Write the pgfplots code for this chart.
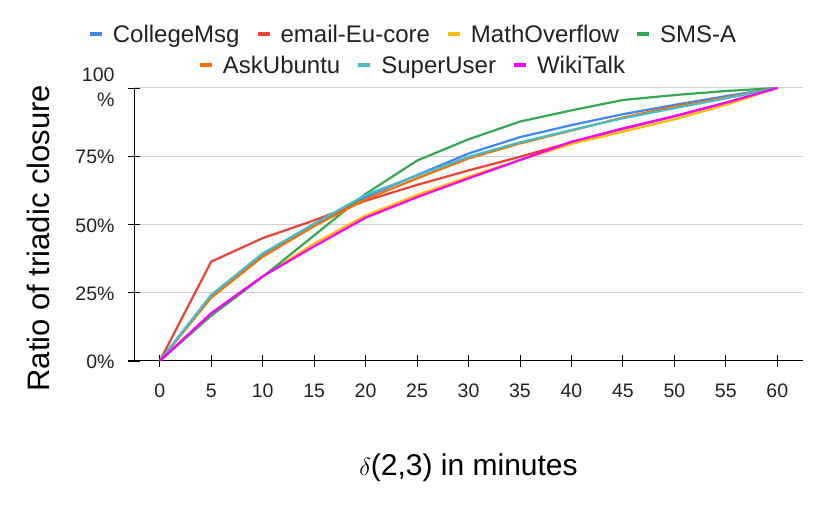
\documentclass[border=0pt]{standalone}
\usepackage{fontspec}
\setmainfont{Liberation Sans}
\usepackage{pgfplots}
\pgfplotsset{compat=1.18}
\definecolor{cBlue}{HTML}{4285F4}
\definecolor{cRed}{HTML}{EA4335}
\definecolor{cYellow}{HTML}{FBBC04}
\definecolor{cGreen}{HTML}{34A853}
\definecolor{cOrange}{HTML}{FF6D01}
\definecolor{cCyan}{HTML}{46BDC6}
\definecolor{cMagenta}{HTML}{FF00FF}
\definecolor{gridgray}{HTML}{D0D0D0}
\definecolor{txt}{HTML}{222222}
\newcommand{\legfont}{\fontsize{24bp}{29bp}\selectfont}
\pgfplotsset{
  mylegend/.style={
    legend style={draw=none, fill=none, inner sep=0pt, outer sep=0pt,
      nodes={inner sep=0pt, outer sep=0pt, font=\legfont, text=txt},
      /tikz/every even column/.append style={column sep=16bp},
      /tikz/every odd column/.append style={column sep=9bp}},
    legend cell align=left,
    legend image code/.code={\draw[line width=4bp] (0bp,0bp) -- (12bp,0bp);}
  }
}
\begin{document}
\begin{tikzpicture}[x=1bp,y=1bp]
\useasboundingbox (0,0) rectangle (830,509);
\begin{axis}[
  at={(134bp,148bp)}, anchor=south west,
  scale only axis, width=669bp, height=273bp,
  xmin=-2.5, xmax=62.5, ymin=0, ymax=100,
  axis x line*=bottom, axis y line*=left,
  axis line style={-, black, line width=1bp},
  xtick={0,5,...,60}, ytick={0,25,50,75,100},
  xticklabels={0,5,10,15,20,25,30,35,40,45,50,55,60},
  yticklabels={0\%,25\%,50\%,75\%,{\begin{tabular}{@{}r@{}}100\\\%\end{tabular}}},
  tick align=center, major tick length=12bp,
  tick style={black, line width=0.8bp},
  ymajorgrids, grid style={color=gridgray, line width=1bp},
  tick label style={font=\fontsize{19.5bp}{25bp}\selectfont, text=txt},
  yticklabel style={xshift=-10bp, yshift=-1bp},
  xticklabel style={anchor=north, text height=14bp, text depth=0bp, yshift=-13bp},
  xlabel={$\delta$(2,3) in minutes},
  xlabel style={at={(axis description cs:0.5,-0.421)}, anchor=base,
    font=\fontsize{30bp}{36bp}\selectfont, text=black},
  ylabel={Ratio of triadic closure},
  ylabel style={at={(axis description cs:-0.127,0.45)}, anchor=base,
    font=\fontsize{31bp}{36bp}\selectfont, text=black},
  mylegend,
  legend columns=4,
  legend style={at={(axis description cs:0.4155,1.2308)}, anchor=north},
  every axis plot/.append style={line width=2.2bp, no markers, line join=round},
]
\addplot[cBlue] coordinates {(0,0) (5,24) (10,39) (15,50) (20,60) (25,68.1) (30,76) (35,82) (40,86.4) (45,90.4) (50,93.8) (55,97) (60,100)};
\addlegendentry{CollegeMsg}
\addplot[cRed] coordinates {(0,0) (5,36.4) (10,45) (15,51.5) (20,58.7) (25,64.5) (30,69.8) (35,74.8) (40,80.1) (45,85) (50,89.6) (55,94.6) (60,100)};
\addlegendentry{email-Eu-core}
\addplot[cYellow] coordinates {(0,0) (5,17.5) (10,31) (15,43) (20,53.3) (25,60.8) (30,67.5) (35,73.6) (40,79.5) (45,84) (50,88.5) (55,93.8) (60,100)};
\addlegendentry{MathOverflow}
\addplot[cGreen] coordinates {(0,0) (5,16.6) (10,30.8) (15,46) (20,61.2) (25,73.4) (30,81.2) (35,87.7) (40,91.8) (45,95.6) (50,97.4) (55,98.9) (60,100)};
\addlegendentry{SMS-A}
\addplot[cOrange, forget plot] coordinates {(0,0) (5,23.2) (10,38.2) (15,49.4) (20,59.2) (25,66.9) (30,74.2) (35,79.7) (40,84.4) (45,89.2) (50,93.2) (55,96.5) (60,100)};
\addplot[cCyan, forget plot] coordinates {(0,0) (5,24.2) (10,39.4) (15,50.3) (20,60.8) (25,67.9) (30,74.8) (35,80.1) (40,84.6) (45,88.9) (50,92.6) (55,96.2) (60,100)};
\addplot[cMagenta, forget plot] coordinates {(0,0) (5,17.5) (10,31) (15,42) (20,52.5) (25,60) (30,66.9) (35,73.6) (40,80.3) (45,85.2) (50,89.7) (55,94.6) (60,100)};
\end{axis}
\begin{axis}[
  at={(134bp,148bp)}, anchor=south west,
  scale only axis, width=669bp, height=273bp,
  xmin=0, xmax=1, ymin=0, ymax=1, hide axis,
  mylegend,
  legend columns=3,
  legend style={at={(axis description cs:0.4148,1.1172)}, anchor=north},
]
\addlegendimage{cOrange}\addlegendentry{AskUbuntu}
\addlegendimage{cCyan}\addlegendentry{SuperUser}
\addlegendimage{cMagenta}\addlegendentry{WikiTalk}
\end{axis}
\draw[black, line width=1bp] (128,148) -- (134,148);
\end{tikzpicture}
\end{document}
